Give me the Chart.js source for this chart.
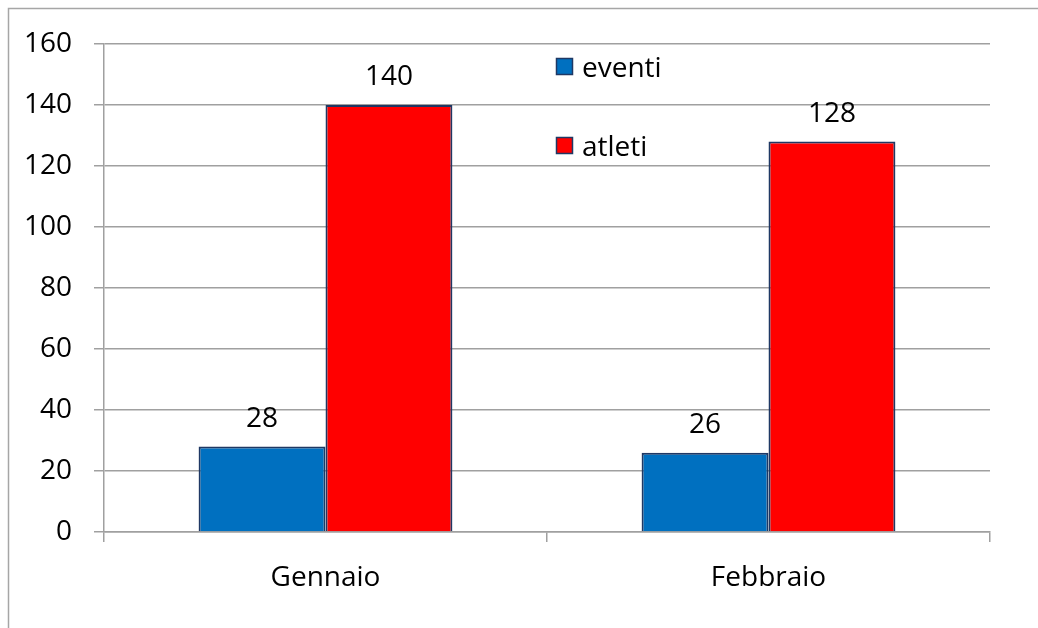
<!DOCTYPE html>
<html>
<head>
<meta charset="utf-8">
<script src="https://cdn.jsdelivr.net/npm/chart.js@4"></script>
<style>
  html, body { margin: 0; padding: 0; background: #fff; }
  #wrap { width: 1038px; height: 628px; position: relative; }
</style>
</head>
<body>
<div id="wrap"><canvas id="chart" width="1038" height="628"></canvas></div>
<script>
const months = ['Gennaio', 'Febbraio'];
const eventi = [28, 26];
const atleti = [140, 128];
const seriesNames = ['eventi', 'atleti'];
const seriesColors = ['#0070C0', '#FF0000'];

const FONT = '"Open Sans", "Liberation Sans", sans-serif';
const FSIZE = 28;

// frame around the chart (only top and left edges are visible)
const framePlugin = {
  id: 'frame',
  beforeDraw(chart) {
    const c = chart.ctx;
    c.save();
    c.strokeStyle = '#A6A6A6';
    c.lineWidth = 1.5;
    c.strokeRect(8.5, 8.5, chart.width + 20, chart.height + 20);
    c.restore();
  }
};

// values above the bars
const valueLabels = {
  id: 'valueLabels',
  afterDatasetsDraw(chart) {
    const c = chart.ctx;
    c.save();
    c.font = FSIZE + 'px ' + FONT;
    c.fillStyle = '#000';
    c.textAlign = 'center';
    c.textBaseline = 'alphabetic';
    chart.data.datasets.forEach((ds, i) => {
      chart.getDatasetMeta(i).data.forEach((bar, j) => {
        c.fillText(ds.data[j], bar.x, bar.y - 20);
      });
    });
    c.restore();
  }
};

// legend sitting inside the plot, items far apart
const insideLegend = {
  id: 'insideLegend',
  afterDraw(chart) {
    const c = chart.ctx;
    const x = 556, rows = [58, 137];
    c.save();
    c.font = FSIZE + 'px ' + FONT;
    c.textBaseline = 'alphabetic';
    chart.data.datasets.forEach((ds, i) => {
      const y = rows[i];
      c.fillStyle = ds.backgroundColor;
      c.fillRect(x, y, 17, 17);
      c.strokeStyle = '#1F3864';
      c.lineWidth = 1.5;
      c.strokeRect(x + 0.5, y + 0.5, 16, 16);
      c.fillStyle = '#000';
      c.fillText(ds.label, x + 26, y + 19);
    });
    c.restore();
  }
};

new Chart(document.getElementById('chart').getContext('2d'), {
  type: 'bar',
  data: {
    labels: months,
    datasets: [
      { label: seriesNames[0], data: eventi, backgroundColor: seriesColors[0] },
      { label: seriesNames[1], data: atleti, backgroundColor: seriesColors[1] }
    ]
  },
  options: {
    responsive: false,
    animation: false,
    layout: { padding: { top: 44, right: 48, left: 0, bottom: 0 } },
    datasets: {
      bar: {
        categoryPercentage: 0.573,
        barPercentage: 1.0,
        borderColor: '#1F3864',
        borderWidth: 2
      }
    },
    plugins: {
      legend: { display: false },
      tooltip: { enabled: false }
    },
    scales: {
      x: {
        afterFit(axis) { axis.height = 96; },
        grid: {
          offset: true,
          drawOnChartArea: false,
          drawTicks: true,
          tickLength: 10,
          color: '#A0A0A0',
          lineWidth: 1.5
        },
        border: { display: true, color: '#A0A0A0', width: 1.5 },
        ticks: {
          padding: 19,
          color: '#000',
          font: { family: FONT, size: FSIZE }
        }
      },
      y: {
        min: 0,
        max: 160,
        afterFit(axis) { axis.width = 104; },
        grid: {
          color: '#A0A0A0',
          lineWidth: 1.5,
          tickLength: 10
        },
        border: { display: true, color: '#A0A0A0', width: 1.5 },
        ticks: {
          stepSize: 20,
          padding: 22,
          color: '#000',
          font: { family: FONT, size: FSIZE }
        }
      }
    }
  },
  plugins: [framePlugin, valueLabels, insideLegend]
});
</script>
</body>
</html>
